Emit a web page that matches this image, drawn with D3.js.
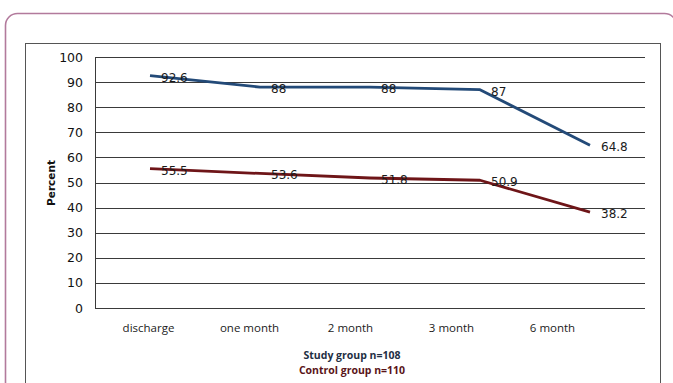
<!DOCTYPE html>
<html>
<head>
<meta charset="utf-8">
<script src="https://cdn.jsdelivr.net/npm/d3@7/dist/d3.min.js"></script>
<style>
  html, body { margin: 0; padding: 0; background: #fff; }
  svg { display: block; }
</style>
</head>
<body>
<svg id="chart" width="673" height="383"></svg>
<script>
// Follow-up time points
const categories = ["discharge", "one month", "2 month", "3 month", "6 month"];
// Percent values per group
const studyValues = [92.6, 88, 88, 87, 64.8];
const controlValues = [55.5, 53.6, 51.8, 50.9, 38.2];
// Value-axis ticks
const yTicks = [0, 10, 20, 30, 40, 50, 60, 70, 80, 90, 100];
// Legend lines below the category axis
const legendLabels = ["Study group n=108", "Control group n=110"];

const svg = d3.select("#chart");

// Outer rounded frame
svg.append("rect")
  .attr("x", 5.5).attr("y", 13.5)
  .attr("width", 671).attr("height", 420)
  .attr("rx", 12).attr("ry", 12)
  .attr("fill", "none")
  .attr("stroke", "#b27a9c")
  .attr("stroke-width", 1.6);

// Chart area frame
svg.append("rect")
  .attr("x", 25.5).attr("y", 43.5)
  .attr("width", 635).attr("height", 360)
  .attr("fill", "#fff")
  .attr("stroke", "#555")
  .attr("stroke-width", 1);

const plot = { left: 95, right: 645, top: 57, bottom: 308 };

const x = d3.scaleBand()
  .domain(categories)
  .range([plot.left, plot.right]);

// Category text sits on its own evenly spaced positions
const xLabel = d3.scalePoint()
  .domain(categories)
  .range([148, 552]);

const y = d3.scaleLinear()
  .domain([0, 100])
  .range([plot.bottom, plot.top]);

// Horizontal gridlines
svg.append("g")
  .selectAll("line")
  .data(yTicks)
  .join("line")
  .attr("x1", plot.left).attr("x2", plot.right)
  .attr("y1", d => Math.round(y(d)) + 0.5)
  .attr("y2", d => Math.round(y(d)) + 0.5)
  .attr("stroke", "#3a3a3a")
  .attr("stroke-width", 1);

// Value axis line
svg.append("line")
  .attr("x1", plot.left + 0.5).attr("x2", plot.left + 0.5)
  .attr("y1", plot.top).attr("y2", plot.bottom + 0.5)
  .attr("stroke", "#3a3a3a");

// Value axis labels
const yAxis = d3.axisLeft(y).tickValues(yTicks).tickSize(0).tickPadding(12);
const gy = svg.append("g")
  .attr("transform", `translate(${plot.left},0)`)
  .call(yAxis);
gy.select(".domain").remove();
gy.selectAll("text")
  .attr("font-family", "DejaVu Sans, Verdana, sans-serif")
  .attr("font-size", 12.5)
  .attr("fill", "#111");

// Value axis title
svg.append("text")
  .attr("transform", "translate(55,183) rotate(-90)")
  .attr("text-anchor", "middle")
  .attr("font-family", "DejaVu Sans, Verdana, sans-serif")
  .attr("font-size", 10.5)
  .attr("font-weight", "bold")
  .attr("fill", "#111")
  .text("Percent");

// Category labels
const xAxis = d3.axisBottom(xLabel).tickSize(0).tickPadding(0);
const gx = svg.append("g")
  .attr("transform", `translate(0,${plot.bottom + 16})`)
  .call(xAxis);
gx.select(".domain").remove();
gx.selectAll("text")
  .attr("font-family", "Open Sans, Liberation Sans, sans-serif")
  .attr("font-size", 11.5)
  .attr("fill", "#222");

// Series lines and value labels
const series = [
  { values: studyValues, color: "#234a78" },
  { values: controlValues, color: "#6e1518" }
];

const line = d3.line()
  .x((d, i) => x(categories[i]) + x.bandwidth() / 2)
  .y(d => y(d));

series.forEach(s => {
  svg.append("path")
    .datum(s.values)
    .attr("d", line)
    .attr("fill", "none")
    .attr("stroke", s.color)
    .attr("stroke-width", 2.8)
    .attr("stroke-linejoin", "round");

  svg.append("g")
    .selectAll("text")
    .data(s.values)
    .join("text")
    .attr("x", (d, i) => x(categories[i]) + x.bandwidth() / 2 + 11)
    .attr("y", d => y(d) + 6)
    .attr("font-family", "DejaVu Sans, Verdana, sans-serif")
    .attr("font-size", 12)
    .attr("fill", "#1a1a1a")
    .text(d => d);
});

// Legend captions
const legendColors = ["#1f2f44", "#5a1418"];
svg.append("g")
  .selectAll("text")
  .data(legendLabels)
  .join("text")
  .attr("x", 352)
  .attr("y", (d, i) => 359 + i * 15)
  .attr("text-anchor", "middle")
  .attr("font-family", "Open Sans, Liberation Sans, sans-serif")
  .attr("font-size", 10.5)
  .attr("font-weight", "bold")
  .attr("fill", (d, i) => legendColors[i])
  .text(d => d);
</script>
</body>
</html>
